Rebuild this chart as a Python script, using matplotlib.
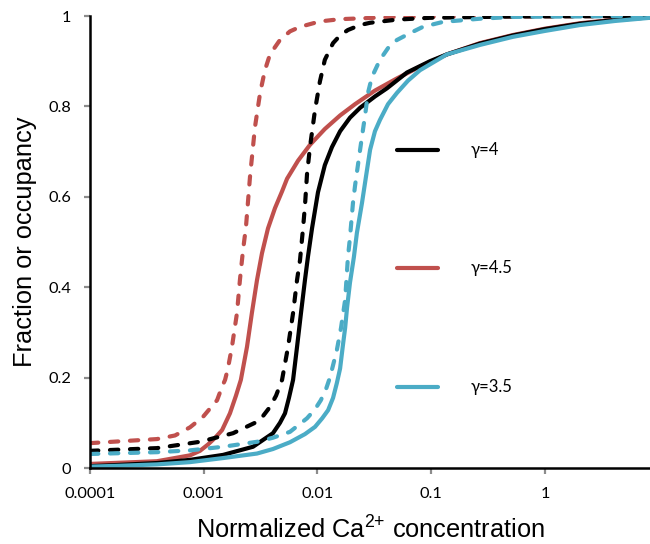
import matplotlib
matplotlib.use("Agg")
import matplotlib.pyplot as plt
from matplotlib.lines import Line2D

plt.rcParams['mathtext.fontset'] = 'custom'
plt.rcParams['mathtext.rm'] = 'Liberation Sans'
plt.rcParams['mathtext.it'] = 'Liberation Sans'
plt.rcParams['mathtext.default'] = 'regular'

RED = '#C0504D'
BLUE = '#4BACC6'
BLACK = '#000000'

# ---- data ----
red_dash_x = [1.00e-4, 3.88e-4, 5.59e-4, 7.57e-4, 9.84e-4, 1.21e-3, 1.31e-3, 1.45e-3, 1.54e-3,
              1.63e-3, 1.77e-3, 1.96e-3, 2.08e-3, 2.21e-3, 2.35e-3, 2.55e-3, 2.82e-3, 3.13e-3,
              3.45e-3, 3.82e-3, 4.68e-3, 5.73e-3, 7.02e-3, 1.05e-2, 1.58e-2, 5.00e-2, 8.38]
red_dash_y = [0.055, 0.064, 0.072, 0.09, 0.113, 0.14, 0.15, 0.18, 0.195,
              0.22, 0.268, 0.343, 0.416, 0.48, 0.533, 0.644, 0.754, 0.83,
              0.88, 0.915, 0.947, 0.966, 0.976, 0.988, 0.993, 0.998, 1.0]

red_solid_x = [1.00e-4, 3.88e-4, 7.57e-4, 9.27e-4, 1.09e-3, 1.26e-3, 1.45e-3, 1.70e-3, 1.92e-3,
               2.12e-3, 2.40e-3, 2.65e-3, 2.94e-3, 3.25e-3, 3.67e-3, 4.23e-3, 4.88e-3, 5.40e-3,
               6.75e-3, 8.59e-3, 1.16e-2, 1.58e-2, 2.14e-2, 3.20e-2, 5.00e-2, 7.96e-2, 0.137,
               0.268, 0.524, 1.0, 2.03, 4.12, 8.38]
red_solid_y = [0.009, 0.015, 0.028, 0.038, 0.052, 0.067, 0.084, 0.121, 0.16,
               0.195, 0.268, 0.343, 0.416, 0.475, 0.53, 0.575, 0.612, 0.64,
               0.68, 0.715, 0.75, 0.78, 0.805, 0.835, 0.862, 0.888, 0.915,
               0.94, 0.958, 0.972, 0.984, 0.992, 0.998]

black_dash_x = [1e-4, 3.88e-4, 9.27e-4, 1.81e-3, 2.82e-3, 3.32e-3, 3.82e-3, 4.32e-3, 4.88e-3,
                5.51e-3, 6.10e-3, 6.61e-3, 7.02e-3, 7.46e-3, 7.76e-3, 8.09e-3, 8.59e-3, 9.51e-3,
                1.05e-2, 1.16e-2, 1.37e-2, 1.58e-2, 1.85e-2, 2.37e-2, 2.90e-2, 5.00e-2, 9.75e-2,
                0.524, 8.38]
black_dash_y = [0.038, 0.044, 0.058, 0.077, 0.10, 0.115, 0.135, 0.16, 0.195,
                0.268, 0.343, 0.416, 0.46, 0.53, 0.58, 0.65, 0.71, 0.792,
                0.855, 0.903, 0.94, 0.957, 0.969, 0.98, 0.985, 0.992, 0.996,
                0.999, 1.0]

black_solid_x = [1e-4, 1.84e-4, 3.88e-4, 7.57e-4, 1.48e-3, 2.71e-3, 4.06e-3, 4.68e-3, 5.18e-3,
                 5.61e-3, 6.10e-3, 6.61e-3, 7.16e-3, 7.76e-3, 8.24e-3, 8.95e-3, 1.01e-2, 1.16e-2,
                 1.34e-2, 1.58e-2, 1.93e-2, 2.37e-2, 3.20e-2, 4.08e-2, 6.12e-2, 9.75e-2, 0.137,
                 0.268, 0.524, 1.0, 2.03, 4.12, 8.38]
black_solid_y = [0.004, 0.007, 0.011, 0.018, 0.029, 0.047, 0.077, 0.10, 0.121,
                 0.155, 0.195, 0.268, 0.343, 0.416, 0.467, 0.53, 0.61, 0.67,
                 0.71, 0.745, 0.775, 0.797, 0.822, 0.84, 0.875, 0.9, 0.915,
                 0.939, 0.957, 0.971, 0.983, 0.991, 0.997]

blue_dash_x = [1e-4, 3.88e-4, 7.57e-4, 1.48e-3, 2.94e-3, 4.06e-3, 5.73e-3, 8.09e-3, 9.51e-3,
               1.07e-2, 1.19e-2, 1.29e-2, 1.48e-2, 1.61e-2, 1.75e-2, 1.85e-2, 1.93e-2, 2.05e-2,
               2.14e-2, 2.32e-2, 2.46e-2, 2.62e-2, 2.78e-2, 3.01e-2, 3.54e-2, 4.33e-2, 5.00e-2,
               6.50e-2, 8.45e-2, 0.127, 0.268, 0.524, 8.38]
blue_dash_y = [0.031, 0.035, 0.039, 0.047, 0.058, 0.067, 0.08, 0.11, 0.13,
               0.15, 0.175, 0.201, 0.261, 0.31, 0.372, 0.465, 0.51, 0.586,
               0.625, 0.688, 0.733, 0.78, 0.83, 0.865, 0.903, 0.935, 0.947,
               0.962, 0.976, 0.987, 0.994, 0.998, 1.0]

blue_solid_x = [1e-4, 1.84e-4, 3.88e-4, 7.57e-4, 1.48e-3, 2.94e-3, 4.06e-3, 5.73e-3, 7.76e-3,
                9.51e-3, 1.10e-2, 1.24e-2, 1.37e-2, 1.48e-2, 1.58e-2, 1.67e-2, 1.75e-2, 1.82e-2,
                1.93e-2, 2.09e-2, 2.22e-2, 2.46e-2, 2.67e-2, 2.90e-2, 3.20e-2, 3.54e-2, 4.17e-2,
                5.00e-2, 6.25e-2, 7.96e-2, 0.137, 0.268, 0.524, 1.0, 2.03, 4.12, 8.38]
blue_solid_y = [0.003, 0.005, 0.008, 0.013, 0.022, 0.032, 0.042, 0.057, 0.075,
                0.091, 0.11, 0.128, 0.155, 0.188, 0.22, 0.27, 0.31, 0.355,
                0.41, 0.467, 0.52, 0.586, 0.645, 0.704, 0.745, 0.77, 0.805,
                0.83, 0.857, 0.88, 0.915, 0.936, 0.954, 0.967, 0.98, 0.989, 0.996]

x_ticks = [1e-4, 1e-3, 1e-2, 1e-1, 1]
x_tick_labels = ['0.0001', '0.001', '0.01', '0.1', '1']
y_ticks = [0, 0.2, 0.4, 0.6, 0.8, 1]
y_tick_labels = ['0', '0.2', '0.4', '0.6', '0.8', '1']
legend_labels = ['\u03b3=4', '\u03b3=4.5', '\u03b3=3.5']

# ---- figure ----
fig = plt.figure(figsize=(6.5, 5.44), dpi=100)
ax = fig.add_axes([90/650, 1-468/544, 560/650, 452/544])

LW = 3.0
dash_kw = dict(linestyle=(0, (2.0, 2.8)), dash_capstyle='round')

ax.plot(red_dash_x, red_dash_y, color=RED, lw=LW, **dash_kw)
ax.plot(red_solid_x, red_solid_y, color=RED, lw=LW, solid_capstyle='round')
ax.plot(black_dash_x, black_dash_y, color=BLACK, lw=LW, **dash_kw)
ax.plot(black_solid_x, black_solid_y, color=BLACK, lw=LW, solid_capstyle='round')
ax.plot(blue_dash_x, blue_dash_y, color=BLUE, lw=LW, **dash_kw)
ax.plot(blue_solid_x, blue_solid_y, color=BLUE, lw=LW, solid_capstyle='round')

ax.set_xscale('log')
ax.set_xlim(1e-4, 8.38)
ax.set_ylim(0, 1)
ax.set_xticks(x_ticks)
ax.set_xticklabels(x_tick_labels)
ax.set_yticks(y_ticks)
ax.set_yticklabels(y_tick_labels)
ax.minorticks_off()

for s in ['top', 'right']:
    ax.spines[s].set_visible(False)
for s in ['left', 'bottom']:
    ax.spines[s].set_linewidth(1.8)
    ax.spines[s].set_color('black')

tick_font = ['Lato', 'DejaVu Sans']
ax.tick_params(axis='both', direction='out', length=4.5, width=1.6, color='#8c8c8c',
               labelsize=11.8, labelcolor='black')
ax.tick_params(axis='x', pad=9)
ax.tick_params(axis='y', pad=9)
for lab in ax.get_xticklabels() + ax.get_yticklabels():
    lab.set_fontfamily(tick_font)

ax.set_xlabel(r'Normalized Ca$^{2{+}}$ concentration', fontsize=18.3,
              family='Liberation Sans', labelpad=11)
ax.set_ylabel('Fraction or occupancy', fontsize=18.3, family='Liberation Sans', labelpad=8)

# inline legend
leg_colors = [BLACK, RED, BLUE]
leg_y = [0.7035, 0.4425, 0.179]
for lbl, c, yy in zip(legend_labels, leg_colors, leg_y):
    ax.add_line(Line2D([0.548, 0.621], [yy, yy], transform=ax.transAxes, color=c,
                       lw=LW, solid_capstyle='round'))
    ax.text(0.679, yy, lbl, transform=ax.transAxes, fontsize=12,
            family=['Lato', 'DejaVu Sans'], va='center', ha='left')

fig.savefig('out.png', dpi=100)
